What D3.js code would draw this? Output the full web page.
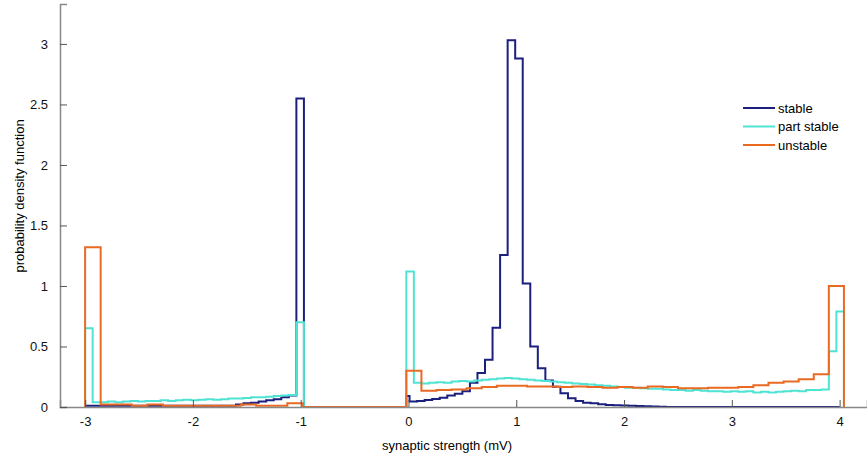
<!DOCTYPE html>
<html>
<head>
<meta charset="utf-8">
<script src="https://cdn.jsdelivr.net/npm/d3@7"></script>
<style>
  body { margin: 0; background: #fff; }
  text { font-family: "Liberation Sans", Arial, sans-serif; }
</style>
</head>
<body>
<svg width="867" height="455"></svg>
<script>
// tick labels
const xTicks = [-3, -2, -1, 0, 1, 2, 3, 4];
const yTicks = [0, 0.5, 1, 1.5, 2, 2.5, 3];

// series names
const seriesNames = ["stable", "part stable", "unstable"];

// stable: bins of 0.07 starting at -3, a short bin at 0, then 0.07 bins from 0.01
const stableNeg = [0.01, 0.01, 0.01, 0.01, 0.01, 0.01, 0.01, 0.01, 0.01, 0.01,
  0.01, 0.01, 0.01, 0.01, 0.01, 0.01, 0.01, 0.01, 0.01, 0.01,
  0.02, 0.03, 0.035, 0.045, 0.055, 0.065, 0.08, 0.095, 2.55];
const stableZero = [0.09];
const stablePos = [0.045, 0.05, 0.058, 0.066, 0.077, 0.094, 0.11, 0.13, 0.2, 0.28,
  0.39, 0.655, 1.256, 3.03, 2.88, 1.02, 0.5, 0.32, 0.22, 0.167,
  0.113, 0.072, 0.05, 0.035, 0.03, 0.022, 0.017, 0.015, 0.012, 0.01,
  0.008, 0.006, 0.005, 0.003, 0, 0, 0, 0, 0, 0,
  0, 0, 0, 0, 0, 0, 0, 0, 0, 0,
  0, 0, 0, 0, 0, 0, 0];

// part stable: 0.07 bins from -3 and from -0.02
const partNeg = [0.65, 0.04, 0.04, 0.045, 0.04, 0.045, 0.05, 0.045, 0.05, 0.05,
  0.055, 0.05, 0.055, 0.06, 0.055, 0.06, 0.065, 0.06, 0.065, 0.07,
  0.07, 0.075, 0.08, 0.08, 0.085, 0.09, 0.095, 0.1, 0.7];
const partPos = [1.12, 0.2, 0.195, 0.2, 0.205, 0.2, 0.21, 0.215, 0.21, 0.22,
  0.225, 0.23, 0.235, 0.24, 0.235, 0.23, 0.225, 0.22, 0.215, 0.21,
  0.205, 0.2, 0.195, 0.19, 0.185, 0.18, 0.175, 0.17, 0.165, 0.16,
  0.16, 0.155, 0.15, 0.15, 0.145, 0.14, 0.14, 0.135, 0.14, 0.135,
  0.13, 0.13, 0.125, 0.13, 0.125, 0.13, 0.12, 0.125, 0.12, 0.125,
  0.13, 0.135, 0.13, 0.14, 0.14, 0.145, 0.46, 0.79];

// unstable: coarser bins
const unstableNeg = [1.32, 0.02, 0.02, 0.01, 0.02, 0.01, 0.01, 0.01, 0.01, 0.01,
  0.02, 0.01, 0.01, 0.03];
const unstablePos = [0.3, 0.135, 0.14, 0.145, 0.155, 0.165, 0.175, 0.175, 0.17, 0.17,
  0.165, 0.17, 0.165, 0.16, 0.165, 0.16, 0.17, 0.165, 0.155, 0.155,
  0.16, 0.16, 0.165, 0.18, 0.2, 0.21, 0.23, 0.27, 1.0];

const series = [
  { name: seriesNames[0], color: "#1b1f7e", segs: [
    { lo: -3, hi: -0.97, v: stableNeg },
    { lo: -0.02, hi: 0.01, v: stableZero },
    { lo: 0.01, hi: 4.0, v: stablePos }] },
  { name: seriesNames[1], color: "#4fe3d3", segs: [
    { lo: -3, hi: -0.97, v: partNeg },
    { lo: -0.02, hi: 4.04, v: partPos }] },
  { name: seriesNames[2], color: "#ea6a22", segs: [
    { lo: -3, hi: -0.98, v: unstableNeg },
    { lo: -0.02, hi: 4.04, v: unstablePos }] }
];

const svg = d3.select("svg");
const width = +svg.attr("width");
const height = +svg.attr("height");
const margin = { top: 4, left: 60, right: 0, bottom: 48 };

const x = d3.scaleLinear().domain([-3.233, 4.254]).range([margin.left, width - margin.right]);
const y = d3.scaleLinear().domain([0, 3.33]).range([height - margin.bottom, margin.top]);

// stairs outline of a histogram
const stairs = segs => {
  const pts = [];
  let prev = null;
  segs.forEach(s => {
    const w = (s.hi - s.lo) / s.v.length;
    if (prev === null || Math.abs(s.lo - prev) > 1e-9) {
      if (prev !== null) pts.push([prev, 0]);
      pts.push([s.lo, 0]);
    }
    s.v.forEach((v, i) => {
      pts.push([s.lo + i * w, v]);
      pts.push([s.lo + (i + 1) * w, v]);
    });
    prev = s.hi;
  });
  pts.push([prev, 0]);
  return pts;
};

const line = d3.line().x(d => x(d[0])).y(d => y(d[1]));

svg.append("g")
  .selectAll("path")
  .data(series)
  .join("path")
  .attr("d", d => line(stairs(d.segs)))
  .attr("fill", "none")
  .attr("stroke", d => d.color)
  .attr("stroke-width", 2)
  .attr("stroke-linejoin", "miter");

// axes (MATLAB style, ticks inside)
const xAxis = svg.append("g")
  .attr("transform", `translate(0,${y(0)})`)
  .call(d3.axisBottom(x).tickValues(xTicks).tickSize(-7).tickPadding(10).tickFormat(d => d));
const yAxis = svg.append("g")
  .attr("transform", `translate(${x.range()[0]},0)`)
  .call(d3.axisLeft(y).tickValues(yTicks).tickSize(-7).tickPadding(12).tickFormat(d => d));

[xAxis, yAxis].forEach(a => {
  a.select(".domain").attr("stroke", "#888").attr("stroke-width", 1.5);
  a.selectAll(".tick line").attr("stroke", "#555");
  a.selectAll(".tick text").attr("font-size", 13).attr("fill", "#111")
    .attr("font-family", "Liberation Sans, Arial, sans-serif");
});

svg.append("text")
  .attr("x", 447).attr("y", 450)
  .attr("text-anchor", "middle")
  .attr("font-size", 13)
  .text("synaptic strength (mV)");

svg.append("text")
  .attr("transform", "translate(24,196) rotate(-90)")
  .attr("text-anchor", "middle")
  .attr("font-size", 13)
  .text("probability density function");

// legend
const legend = svg.append("g").attr("transform", "translate(743,108)");
const item = legend.selectAll("g")
  .data(series)
  .join("g")
  .attr("transform", (d, i) => `translate(0,${i * 18.5})`);
item.append("line")
  .attr("x1", 0).attr("x2", 32)
  .attr("stroke", d => d.color).attr("stroke-width", 2);
item.append("text")
  .attr("x", 35).attr("dy", "0.35em")
  .attr("font-size", 13)
  .text(d => d.name);
</script>
</body>
</html>
